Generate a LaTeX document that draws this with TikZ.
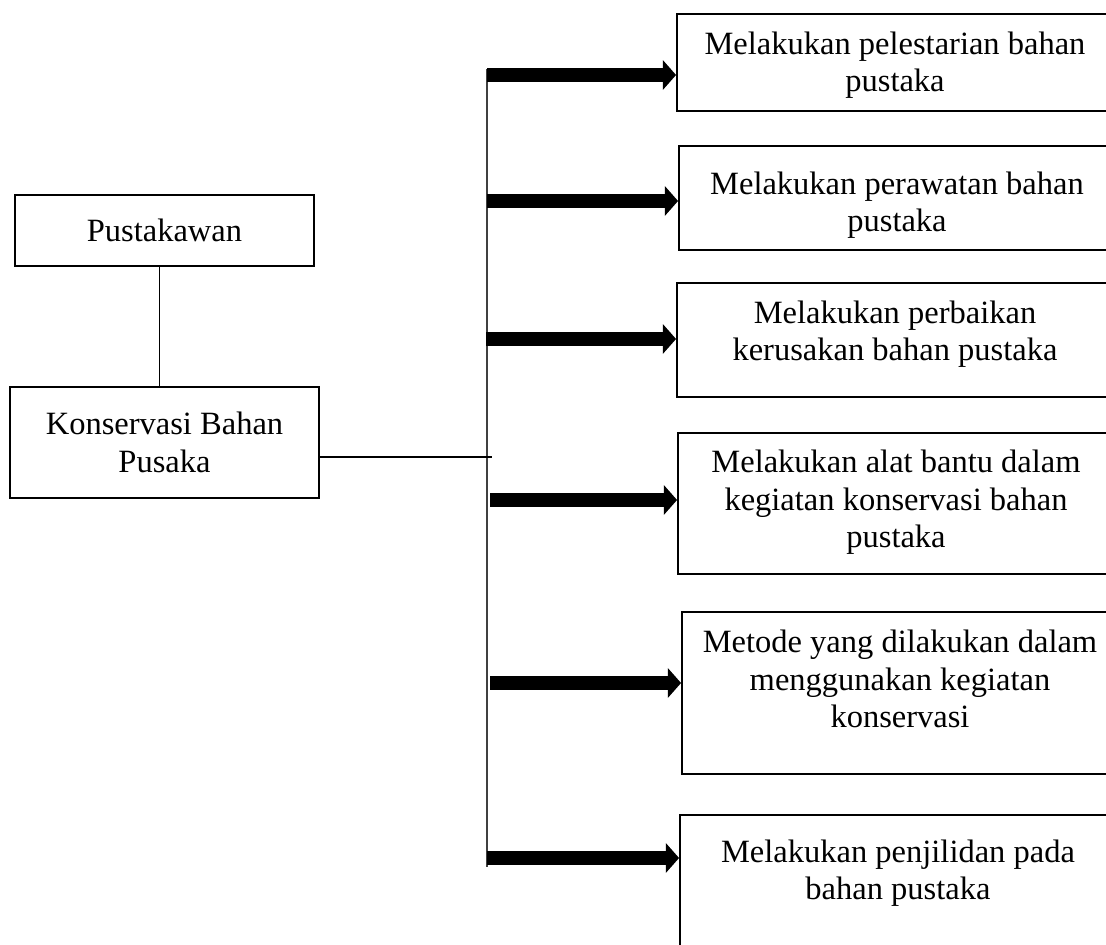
\documentclass[tikz,border=0pt]{standalone}
\usepackage{fontspec}
\setmainfont{Liberation Serif}
\usetikzlibrary{arrows.meta,positioning,calc}

\begin{document}
\begin{tikzpicture}[x=0.02cm,y=-0.02cm,
    every node/.style={font=\fontsize{18.5}{21.5}\selectfont},
    box/.style={draw,line width=1.1pt,align=center,inner sep=0pt},
    rbox/.style={box,minimum width=8.72cm,text depth=5pt},
    link/.style={line width=0.6pt},
    bus/.style={line width=0.8pt,black!75},
    arr/.style={line width=8pt,-{Triangle[length=7.5pt,width=16.5pt]}}]

  \useasboundingbox (0,0) rectangle (1106,945);
  \clip (0,0) rectangle (1106,945);

  %% Left side
  \node[box,minimum width=5.98cm,minimum height=1.42cm] (pust) at (164.5,230.5) {Pustakawan};
  \node[box,minimum width=6.18cm,minimum height=2.22cm] (kons) at (164.5,442.5) {Konservasi Bahan\\Pusaka};

  %% Activities
  \node[rbox,minimum height=1.94cm,text height=38.5pt] (lest) at (895,62.5) {Melakukan pelestarian bahan\\pustaka};
  \node[rbox,minimum height=2.08cm,text height=43.6pt] (rawat) at (897,198) {Melakukan perawatan bahan\\pustaka};
  \node[rbox,minimum height=2.28cm,text height=28.8pt] (baik) at (895,340) {Melakukan perbaikan\\kerusakan bahan pustaka};
  \node[rbox,minimum height=2.82cm,text height=55.5pt] (alat) at (896,503.5) {Melakukan alat bantu dalam\\kegiatan konservasi bahan\\pustaka};
  \node[rbox,minimum height=3.24cm,text height=44.7pt] (metode) at (900,693) {Metode yang dilakukan dalam\\menggunakan kegiatan\\konservasi};
  \node[rbox,minimum height=2.80cm,text height=22pt] (jilid) at (898,885) {Melakukan penjilidan pada\\bahan pustaka};

  %% Bus
  \coordinate (bustop) at (487,69);
  \coordinate (busbot) at (487,867);
  \coordinate (join) at (492,457);
  \draw[bus] (bustop) -- (busbot);
  \draw[link] ([xshift=-3pt]pust.south) -- ([xshift=-3pt]kons.north);
  \draw[link] (join -| kons.east) -- (join);

  %% Arrows
  \coordinate (s1) at (487,75);
  \coordinate (s2) at (487,201);
  \coordinate (s3) at (486,339);
  \coordinate (s4) at (490,500);
  \coordinate (s5) at (490,683);
  \coordinate (s6) at (487,858);
  \draw[arr] (s1) -- (s1 -| lest.west);
  \draw[arr] (s2) -- (s2 -| rawat.west);
  \draw[arr] (s3) -- (s3 -| baik.west);
  \draw[arr] (s4) -- (s4 -| alat.west);
  \draw[arr] (s5) -- (s5 -| metode.west);
  \draw[arr] (s6) -- (s6 -| jilid.west);
\end{tikzpicture}
\end{document}
